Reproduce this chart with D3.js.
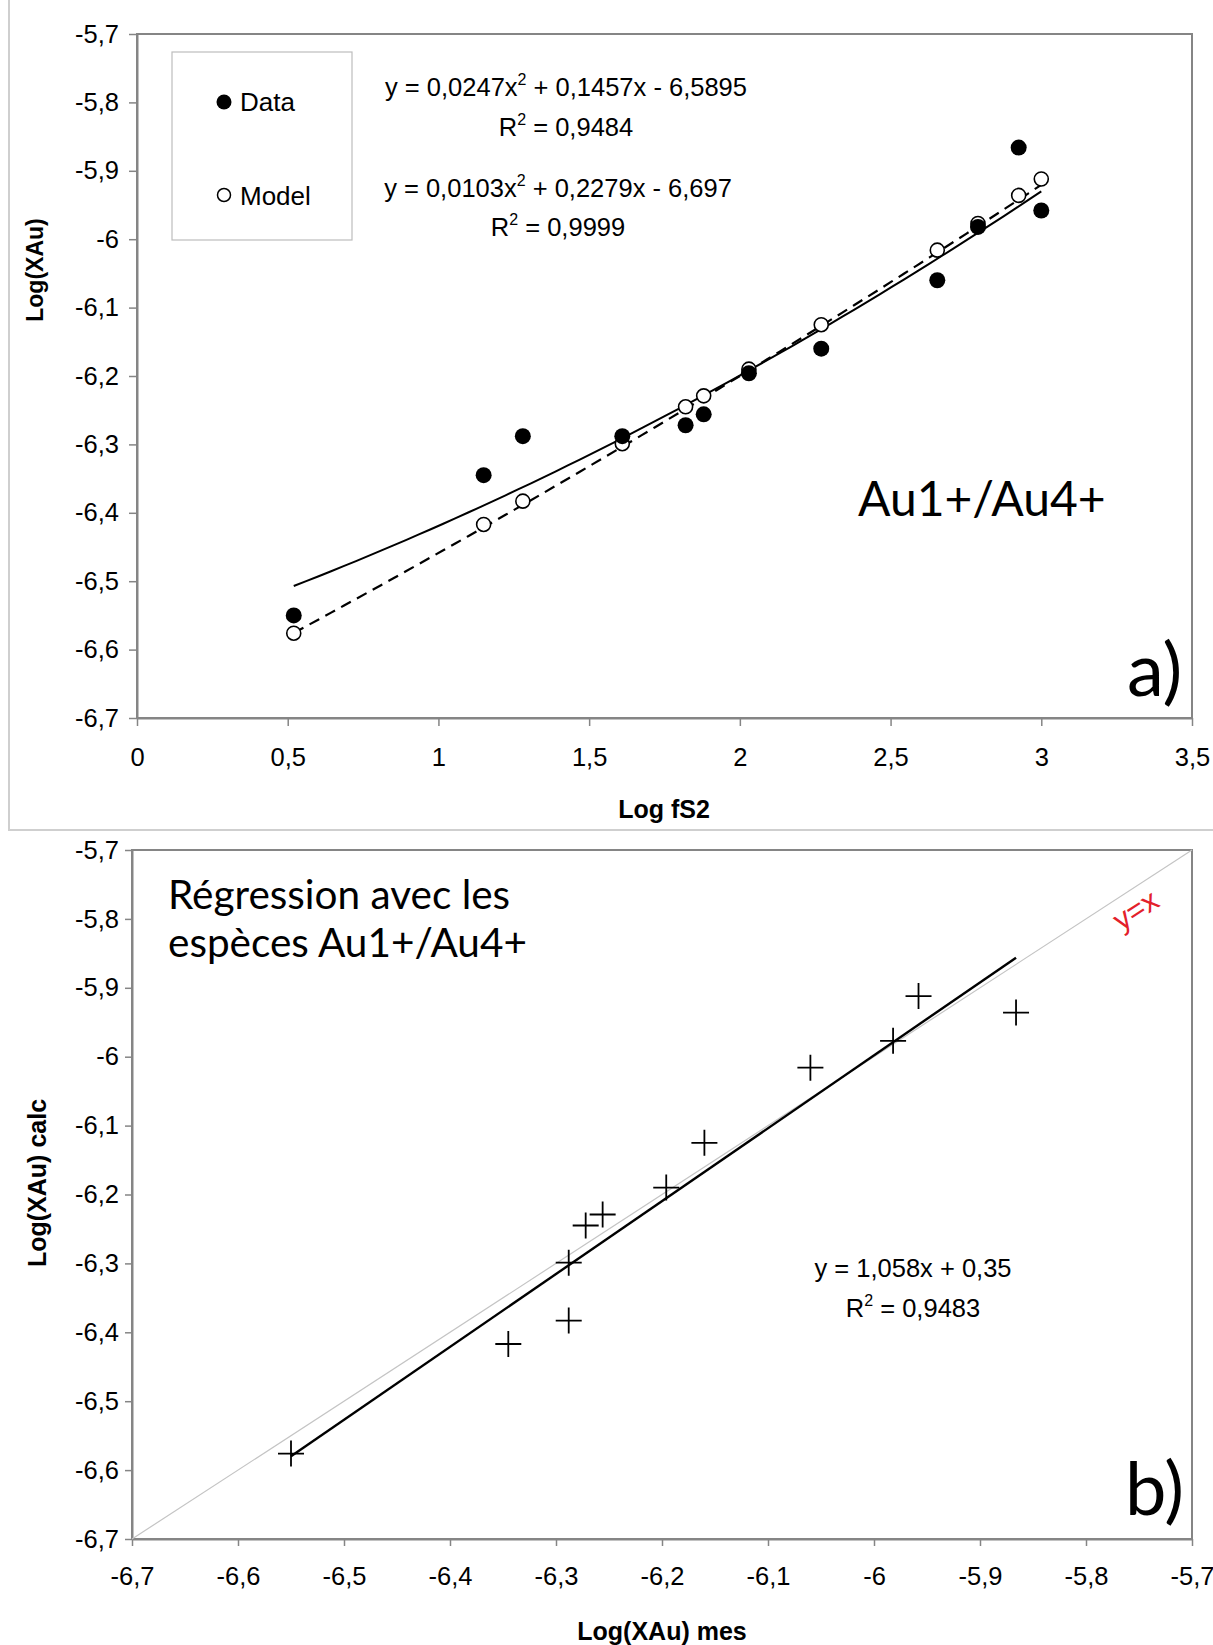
<!DOCTYPE html>
<html><head><meta charset="utf-8">
<script src="https://cdn.jsdelivr.net/npm/d3@7"></script>
<style>body{margin:0;background:#fff} svg{display:block}</style>
</head><body><svg id="c" width="1213" height="1645"></svg>
<script>
// ---- data ----
const logfS2   = [0.52, 1.15, 1.28, 1.61, 1.82, 1.88, 2.03, 2.27, 2.655, 2.79, 2.925, 3.0];
const dataXAu  = [-6.55, -6.345, -6.288, -6.288, -6.272, -6.256, -6.196, -6.16, -6.06, -5.982, -5.866, -5.958];
const modelXAu = [-6.576, -6.417, -6.383, -6.299, -6.245, -6.229, -6.19, -6.125, -6.016, -5.977, -5.936, -5.912];
const fitDataCoef  = [0.0247, 0.1457, -6.5895];
const fitModelCoef = [0.0103, 0.2279, -6.697];
const fitCalcCoef  = [1.058, 0.35];
const xTicksA = [0, 0.5, 1, 1.5, 2, 2.5, 3, 3.5];
const yTicks  = [-5.7, -5.8, -5.9, -6, -6.1, -6.2, -6.3, -6.4, -6.5, -6.6, -6.7];
const xTicksB = [-6.7, -6.6, -6.5, -6.4, -6.3, -6.2, -6.1, -6, -5.9, -5.8, -5.7];
const eqA1 = ["y = 0,0247x", "2", " + 0,1457x - 6,5895"];
const r2A1 = "0,9484";
const eqA2 = ["y = 0,0103x", "2", " + 0,2279x - 6,697"];
const r2A2 = "0,9999";
const eqB  = "y = 1,058x + 0,35";
const r2B  = "0,9483";

const svg = d3.select("#c");
const fmt = v => String(v).replace(".", ",");
const ARIAL = "'Liberation Sans', Arial, sans-serif";
const MYR = "Lato, 'Open Sans', sans-serif";
const AX = "#858585";

// outer frame of panel a
svg.append("path").attr("d", "M9,0 V830 H1213").attr("fill", "none")
  .attr("stroke", "#cfcfcf").attr("stroke-width", 2);

function frame(g, x, y) {
  const [x0, x1] = x.range(), [y1, y0] = y.range();
  g.append("rect").attr("x", x0).attr("y", y0).attr("width", x1 - x0).attr("height", y1 - y0)
    .attr("fill", "none").attr("stroke", AX).attr("stroke-width", 2);
}
function styleAxis(sel) {
  sel.select(".domain").attr("stroke", AX).attr("stroke-width", 2);
  sel.selectAll(".tick line").attr("stroke", AX).attr("stroke-width", 1.5);
  sel.selectAll(".tick text").attr("fill", "#000").style("font-family", ARIAL).style("font-size", "25.5px");
}

// ================= Panel a =================
const xa = d3.scaleLinear().domain([0, 3.5]).range([137, 1192]);
const ya = d3.scaleLinear().domain([-6.7, -5.7]).range([718, 34]);
const ga = svg.append("g");
frame(ga, xa, ya);
ga.append("g").attr("transform", "translate(0,718)")
  .call(d3.axisBottom(xa).tickValues(xTicksA).tickFormat(fmt).tickSize(8).tickSizeOuter(0).tickPadding(22))
  .call(styleAxis);
ga.append("g").attr("transform", "translate(137,0)")
  .call(d3.axisLeft(ya).tickValues(yTicks).tickFormat(fmt).tickSize(8).tickSizeOuter(0).tickPadding(10))
  .call(styleAxis);

// trendlines
const poly = c => x => c[0] * x * x + c[1] * x + c[2];
const xmin = d3.min(logfS2), xmax = d3.max(logfS2);
const samples = d3.range(0, 61).map(i => xmin + (xmax - xmin) * i / 60);
const lineA = d3.line().x(d => xa(d[0])).y(d => ya(d[1]));
ga.append("path").attr("d", lineA(samples.map(x => [x, poly(fitDataCoef)(x)])))
  .attr("fill", "none").attr("stroke", "#000").attr("stroke-width", 2);
ga.append("path").attr("d", lineA(samples.map(x => [x, poly(fitModelCoef)(x)])))
  .attr("fill", "none").attr("stroke", "#000").attr("stroke-width", 2.2).attr("stroke-dasharray", "11,7");

// points
ga.selectAll("circle.m").data(logfS2.map((x, i) => [x, modelXAu[i]])).join("circle")
  .attr("cx", d => xa(d[0])).attr("cy", d => ya(d[1])).attr("r", 7)
  .attr("fill", "#fff").attr("stroke", "#000").attr("stroke-width", 1.6);
ga.selectAll("circle.d").data(logfS2.map((x, i) => [x, dataXAu[i]])).join("circle")
  .attr("cx", d => xa(d[0])).attr("cy", d => ya(d[1])).attr("r", 8).attr("fill", "#000");

// legend
ga.append("rect").attr("x", 172).attr("y", 52).attr("width", 180).attr("height", 188)
  .attr("fill", "#fff").attr("stroke", "#bdbdbd").attr("stroke-width", 1.2);
ga.append("circle").attr("cx", 224).attr("cy", 102).attr("r", 7.5).attr("fill", "#000");
ga.append("circle").attr("cx", 224).attr("cy", 195).attr("r", 6.5).attr("fill", "#fff").attr("stroke", "#000").attr("stroke-width", 1.5);
ga.append("text").attr("x", 240).attr("y", 111).text("Data").style("font-family", ARIAL).style("font-size", "26px");
ga.append("text").attr("x", 240).attr("y", 205).text("Model").style("font-family", ARIAL).style("font-size", "26px");

function eqText(g, cx, y, parts) {
  const t = g.append("text").attr("x", cx).attr("y", y).attr("text-anchor", "middle")
    .style("font-family", ARIAL).style("font-size", "25.5px");
  t.append("tspan").text(parts[0]);
  t.append("tspan").attr("dy", -11).style("font-size", "16px").text(parts[1]);
  t.append("tspan").attr("dy", 11).text(parts[2]);
}
eqText(ga, 566, 96, eqA1);
eqText(ga, 566, 136, ["R", "2", " = " + r2A1]);
eqText(ga, 558, 197, eqA2);
eqText(ga, 558, 236, ["R", "2", " = " + r2A2]);

ga.append("text").attr("x", 858).attr("y", 516).text("Au1+/Au4+")
  .style("font-family", MYR).style("font-size", "48px");
ga.append("text").attr("x", 1127).attr("y", 696).text("a)")
  .style("font-family", MYR).style("font-size", "74px");

ga.append("text").attr("x", 664).attr("y", 818).attr("text-anchor", "middle").text("Log fS2")
  .style("font-family", ARIAL).style("font-size", "25px").style("font-weight", "bold");
ga.append("text").attr("transform", "translate(43,270) rotate(-90)").attr("text-anchor", "middle").text("Log(XAu)")
  .style("font-family", ARIAL).style("font-size", "23px").style("font-weight", "bold");

// ================= Panel b =================
const xb = d3.scaleLinear().domain([-6.7, -5.7]).range([132, 1192]);
const yb = d3.scaleLinear().domain([-6.7, -5.7]).range([1539, 850]);
const gb = svg.append("g");
frame(gb, xb, yb);
gb.append("g").attr("transform", "translate(0,1539)")
  .call(d3.axisBottom(xb).tickValues(xTicksB).tickFormat(fmt).tickSize(7).tickSizeOuter(0).tickPadding(21))
  .call(styleAxis);
gb.append("g").attr("transform", "translate(132,0)")
  .call(d3.axisLeft(yb).tickValues(yTicks).tickFormat(fmt).tickSize(7).tickSizeOuter(0).tickPadding(6))
  .call(styleAxis);

// y = x
gb.append("line").attr("x1", xb(-6.7)).attr("y1", yb(-6.7)).attr("x2", xb(-5.7)).attr("y2", yb(-5.7))
  .attr("stroke", "#c4c4c4").attr("stroke-width", 1.2);
// regression line
const bx0 = d3.min(dataXAu), bx1 = d3.max(dataXAu);
const lin = x => fitCalcCoef[0] * x + fitCalcCoef[1];
gb.append("line").attr("x1", xb(bx0)).attr("y1", yb(lin(bx0))).attr("x2", xb(bx1)).attr("y2", yb(lin(bx1)))
  .attr("stroke", "#000").attr("stroke-width", 2.4);
// crosses
const cs = 13;
gb.selectAll("path.cross").data(dataXAu.map((x, i) => [x, modelXAu[i]])).join("path")
  .attr("d", d => {
    const px = xb(d[0]), py = yb(d[1]);
    return `M${px - cs},${py}H${px + cs}M${px},${py - cs}V${py + cs}`;
  })
  .attr("stroke", "#000").attr("stroke-width", 1.8).attr("fill", "none");

// y=x label
const ang = -Math.atan2(yb(-6.7) - yb(-5.7), xb(-5.7) - xb(-6.7)) * 180 / Math.PI;
gb.append("text").attr("transform", `translate(${xb(-5.748)},${yb(-5.785) + 10}) rotate(${ang})`)
  .attr("text-anchor", "middle").text("y=x").attr("fill", "#e3202a")
  .style("font-family", ARIAL).style("font-size", "30px");

eqText(gb, 913, 1277, [eqB, "", ""]);
eqText(gb, 913, 1317, ["R", "2", " = " + r2B]);

gb.append("text").attr("x", 168).attr("y", 909).text("Régression avec les")
  .style("font-family", MYR).style("font-size", "40.5px");
gb.append("text").attr("x", 168).attr("y", 957).text("espèces Au1+/Au4+")
  .style("font-family", MYR).style("font-size", "40.5px");
gb.append("text").attr("x", 1125).attr("y", 1515).text("b)")
  .style("font-family", MYR).style("font-size", "74px");

gb.append("text").attr("x", 662).attr("y", 1640).attr("text-anchor", "middle").text("Log(XAu) mes")
  .style("font-family", ARIAL).style("font-size", "25px").style("font-weight", "bold");
gb.append("text").attr("transform", "translate(46,1183) rotate(-90)").attr("text-anchor", "middle").text("Log(XAu) calc")
  .style("font-family", ARIAL).style("font-size", "25px").style("font-weight", "bold");
</script></body></html>
